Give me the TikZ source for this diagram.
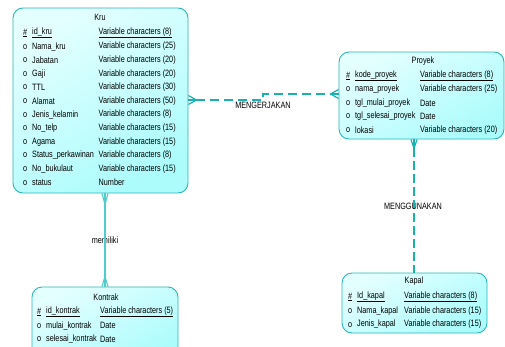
\documentclass[tikz,border=0pt]{standalone}
\usepackage{fontspec}
\setmainfont[FakeStretch=0.79]{Liberation Sans}
\usetikzlibrary{calc}
\definecolor{fillA}{HTML}{E4FFFF}
\definecolor{fillB}{HTML}{ACFCFC}
\definecolor{edge}{HTML}{2BB5B5}
\definecolor{conn}{HTML}{18B0B0}
\definecolor{connlight}{HTML}{50CCCC}
\definecolor{txt}{HTML}{000000}
\tikzset{
  entity/.style={draw=edge, line width=0.9pt, rounded corners=10pt,
    top color=fillA, bottom color=fillB, shading angle=30, inner sep=0pt},
  txtnode/.style={font=\fontsize{9.2}{10}\selectfont, text=txt, inner sep=0pt},
  row/.style={txtnode, anchor=west},
  dashconn/.style={draw=conn, line width=1.7pt, dash pattern=on 9pt off 5pt},
  footconn/.style={draw=conn, line width=1.2pt},
  lightconn/.style={draw=connlight, line width=1.5pt},
  lightfoot/.style={draw=connlight, line width=1.1pt}
}
\newcommand{\ul}[1]{\underline{#1}}
\begin{document}
\begin{tikzpicture}[x=1pt,y=-1pt]
\useasboundingbox (0,0) rectangle (505,346);
\clip (0,0) rectangle (505,346);

% ---------- entities ----------
\node[entity, minimum width=175pt, minimum height=185pt] (kru) at (100.5,100.5) {};
\node[entity, minimum width=165pt, minimum height=87pt] (proyek) at (421.5,95.5) {};
\node[entity, minimum width=145pt, minimum height=60pt] (kapal) at (414.5,303) {};
\node[entity, minimum width=146pt, minimum height=76pt] (kontrak) at (105,325) {};

% ---------- Kru ----------
\node[txtnode] (krut) at (100,17) {Kru};
\foreach \i/\m/\n/\t in {
  0/\ul{\#}/\ul{id\_kru}/\ul{Variable characters (8)},
  1/o/Nama\_kru/Variable characters (25),
  2/o/Jabatan/Variable characters (20),
  3/o/Gaji/Variable characters (20),
  4/o/TTL/Variable characters (30),
  5/o/Alamat/Variable characters (50),
  6/o/Jenis\_kelamin/Variable characters (8),
  7/o/No\_telp/Variable characters (15),
  8/o/Agama/Variable characters (15),
  9/o/Status\_perkawinan/Variable characters (8),
  10/o/No\_bukulaut/Variable characters (15),
  11/o/status/Number}{
  \node[row] (krum\i) at (23,33+13.6*\i) {\m};
  \node[row] (krun\i) at (32,33+13.6*\i) {\n};
  \node[row] (krud\i) at (98.5,33+13.6*\i) {\t};
}

% ---------- Proyek ----------
\node[txtnode] (proyekt) at (423,61) {Proyek};
\foreach \i/\m/\n/\t in {
  0/\ul{\#}/\ul{kode\_proyek}/\ul{Variable characters (8)},
  1/o/nama\_proyek/Variable characters (25),
  2/o/tgl\_mulai\_proyek/Date,
  3/o/tgl\_selesai\_proyek/Date,
  4/o/lokasi/Variable characters (20)}{
  \node[row] (proyekm\i) at (346,76+13.5*\i) {\m};
  \node[row] (proyekn\i) at (355,76+13.5*\i) {\n};
  \node[row] (proyekd\i) at (420,76+13.5*\i) {\t};
}

% ---------- Kapal ----------
\node[txtnode] (kapalt) at (414,281) {Kapal};
\foreach \i/\m/\n/\t in {
  0/\ul{\#}/\ul{Id\_kapal}/\ul{Variable characters (8)},
  1/o/Nama\_kapal/Variable characters (15),
  2/o/Jenis\_kapal/Variable characters (15)}{
  \node[row] (kapalm\i) at (348,297+13.8*\i) {\m};
  \node[row] (kapaln\i) at (357,297+13.8*\i) {\n};
  \node[row] (kapald\i) at (404,297+13.8*\i) {\t};
}

% ---------- Kontrak ----------
\node[txtnode] (kontrakt) at (106,297) {Kontrak};
\foreach \i/\m/\n/\t in {
  0/\ul{\#}/\ul{id\_kontrak}/\ul{Variable characters (5)},
  1/o/mulai\_kontrak/Date,
  2/o/selesai\_kontrak/Date}{
  \node[row] (kontrakm\i) at (37,312+13.7*\i) {\m};
  \node[row] (kontrakn\i) at (46,312+13.7*\i) {\n};
  \node[row] (kontrakd\i) at (100,312+13.7*\i) {\t};
}

% ---------- MENGERJAKAN (Kru -- Proyek) ----------
\coordinate (ka) at ($(kru.east)+(0,-0.5)$);
\coordinate (kaf) at ($(ka)+(8,0)$);
\coordinate (pa) at ($(proyek.west)+(0,-1.5)$);
\coordinate (paf) at ($(pa)+(-8,0)$);
\coordinate (mstep) at (263,0);
\draw[footconn] ($(ka)+(0,-4.5)$) -- (kaf) -- ($(ka)+(0,4.5)$);
\draw[footconn] (ka) -- (kaf);
\draw[footconn] ($(pa)+(0,-4.5)$) -- (paf) -- ($(pa)+(0,4.5)$);
\draw[footconn] (pa) -- (paf);
\draw[dashconn] (kaf) -- (mstep |- kaf) -- (mstep |- paf) -- (paf);
\node[txtnode] (lblA) at (263,105.5) {MENGERJAKAN};

% ---------- MENGGUNAKAN (Proyek -- Kapal) ----------
\coordinate (pb) at ($(proyek.south)+(-7.5,0)$);
\coordinate (pbf) at ($(pb)+(0,9)$);
\coordinate (kb) at (pb |- kapal.north);
\draw[footconn] ($(pb)+(-3,0)$) -- (pbf) -- ($(pb)+(3,0)$);
\draw[footconn] (pb) -- (pbf);
\draw[dashconn, dash pattern=on 9pt off 4pt] (pbf) -- (kb);
\node[txtnode] (lblB) at (413,206) {MENGGUNAKAN};

% ---------- memiliki (Kru -- Kontrak) ----------
\coordinate (kc) at (kru.south -| kontrak.north);
\coordinate (kcf) at ($(kc)+(0,11)$);
\coordinate (tc) at (kontrak.north);
\coordinate (tcf) at ($(tc)+(0,-10)$);
\draw[lightfoot] ($(kc)+(-3,0)$) -- (kcf) -- ($(kc)+(3,0)$);
\draw[lightfoot] ($(tc)+(-3,0)$) -- (tcf) -- ($(tc)+(3,0)$);
\node[txtnode] (lblC) at (105,240) {memiliki};
\draw[lightconn] (kc) -- (tc);
\end{tikzpicture}
\end{document}
